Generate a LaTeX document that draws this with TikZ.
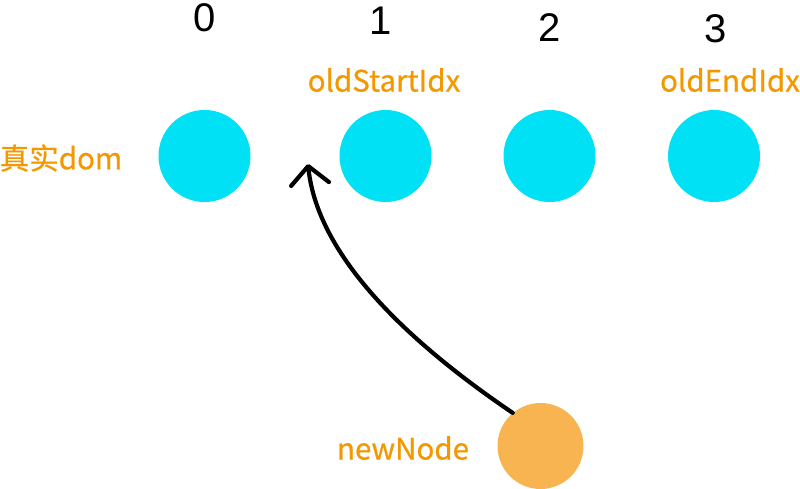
\documentclass[tikz,border=0pt]{standalone}
\usepackage{fontspec}
\setmainfont{Liberation Sans}
\newfontfamily\cjk[FakeBold=0.6]{Noto Sans CJK SC}
\usetikzlibrary{arrows.meta}
\definecolor{domcyan}{HTML}{00E1F6}
\definecolor{newor}{HTML}{F8B451}
\definecolor{lblor}{HTML}{F39800}
\tikzset{
  domnode/.style={circle, fill=domcyan, minimum size=92pt, inner sep=0pt},
  newnode/.style={circle, fill=newor, minimum size=86pt, inner sep=0pt},
  lbl/.style={text=lblor, font=\cjk\fontsize{29.5}{32}\selectfont, inner sep=0pt},
  digit/.style={text=black, font=\fontsize{40}{44}\selectfont, inner sep=0pt},
  pen/.style={line width=4.2pt, line cap=round, line join=round, black}
}
\begin{document}
\begin{tikzpicture}[x=1pt,y=-1pt]
\useasboundingbox (0,0) rectangle (800,489);
\node[domnode] (c0) at (204.5,156) {};
\node[domnode] (c1) at (385.5,156) {};
\node[domnode] (c2) at (549.5,156) {};
\node[domnode] (c3) at (714,156) {};
\node[newnode] (nn) at (540.5,446) {};
\node[digit] (d0) at (205,18) {0};
\node[digit] (d1) at (381,21) {1};
\node[digit] (d2) at (550,28) {2};
\node[digit] (d3) at (716,29) {3};
\node[lbl] (ls) at (384,80) {oldStartIdx};
\node[lbl] (le) at (730,80) {oldEndIdx};
\node[lbl] (ld) at (61,158) {真实dom};
\node[lbl] (ln) at (403,448) {newNode};
\coordinate (tip) at (308,164);
\draw[pen, -{Straight Barb[length=18pt, width=38pt, round]}]
  (nn.130) .. controls (420,350) and (318,262) .. (tip);
\end{tikzpicture}
\end{document}
